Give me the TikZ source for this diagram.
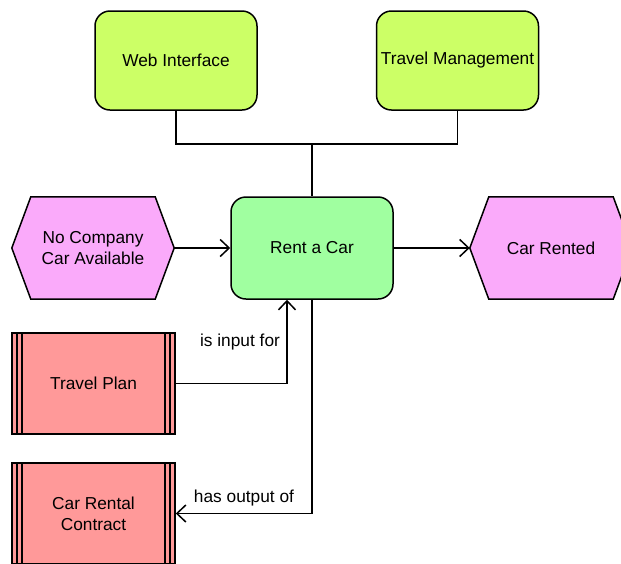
\documentclass[tikz,border=0pt]{standalone}
\usepackage{fontspec}
\setmainfont{Liberation Sans}
\usetikzlibrary{arrows.meta,backgrounds}
\definecolor{sysyel}{RGB}{204,255,102}
\definecolor{fngreen}{RGB}{160,255,160}
\definecolor{evpink}{RGB}{250,170,250}
\definecolor{docred}{RGB}{255,153,153}
\begin{document}
\begin{tikzpicture}[x=1pt,y=-1pt,
  every node/.style={font=\fontsize{17.3}{20.8}\selectfont, align=center, inner sep=0pt},
  lw/.style={line width=1.5pt},
  sysbox/.style={lw, draw, fill=sysyel, rounded corners=15pt, minimum width=162pt, minimum height=99pt},
  fnbox/.style={lw, draw, fill=fngreen, rounded corners=15pt, minimum width=162pt, minimum height=102pt},
  evbox/.style={minimum width=162pt, minimum height=102pt},
  hexstyle/.style={lw, draw, fill=evpink, line join=miter},
  docbox/.style={lw, draw, fill=docred, minimum width=163pt, minimum height=101pt,
    path picture={
      \draw[lw] ([xshift=5pt]path picture bounding box.north west) -- ([xshift=5pt]path picture bounding box.south west);
      \draw[lw] ([xshift=10pt]path picture bounding box.north west) -- ([xshift=10pt]path picture bounding box.south west);
      \draw[lw] ([xshift=-5pt]path picture bounding box.north east) -- ([xshift=-5pt]path picture bounding box.south east);
      \draw[lw] ([xshift=-10pt]path picture bounding box.north east) -- ([xshift=-10pt]path picture bounding box.south east);
    }},
  conn/.style={lw},
  arr/.style={lw, -{Straight Barb[length=9pt,width=17pt]}},
  lbl/.style={font=\fontsize{17.3}{20.8}\selectfont}
]
\useasboundingbox (0,0) rectangle (621,563);

\node[sysbox] (web) at (176,60.5) {Web Interface};
\node[sysbox] (tm) at (457.5,60.5) {Travel Management};
\node[fnbox] (rent) at (312,248) {Rent a Car};
\node[evbox] (nca) at (93,248) {No Company\\Car Available};
\node[evbox] (cr) at (551,248) {Car Rented};
\node[docbox] (tp) at (93.5,383.5) {Travel Plan};
\node[docbox] (crc) at (93.5,513.5) {Car Rental\\Contract};

\begin{scope}[on background layer]
\fill[white] (0,0) rectangle (621,563);
\foreach \n in {nca,cr}{
  \draw[hexstyle] ([xshift=19pt]\n.north west) -- ([xshift=-19pt]\n.north east) -- (\n.east)
    -- ([xshift=-19pt]\n.south east) -- ([xshift=19pt]\n.south west) -- (\n.west) -- cycle;
}
\end{scope}

\coordinate (j) at (312,144);
\draw[conn] (web.south) |- (j);
\draw[conn] (tm.south) |- (j);
\draw[conn] (j) -- (rent.north);

\draw[arr] (nca.east) -- (rent.west);
\draw[arr] (rent.east) -- (cr.west);
\draw[arr] (tp.east) -| ([xshift=-25pt]rent.south);
\draw[arr] (rent.south) |- (crc.east);

\node[lbl] (l1) at (240,342) {is input for};
\node[lbl] (l2) at (244,498) {has output of};
\end{tikzpicture}
\end{document}
